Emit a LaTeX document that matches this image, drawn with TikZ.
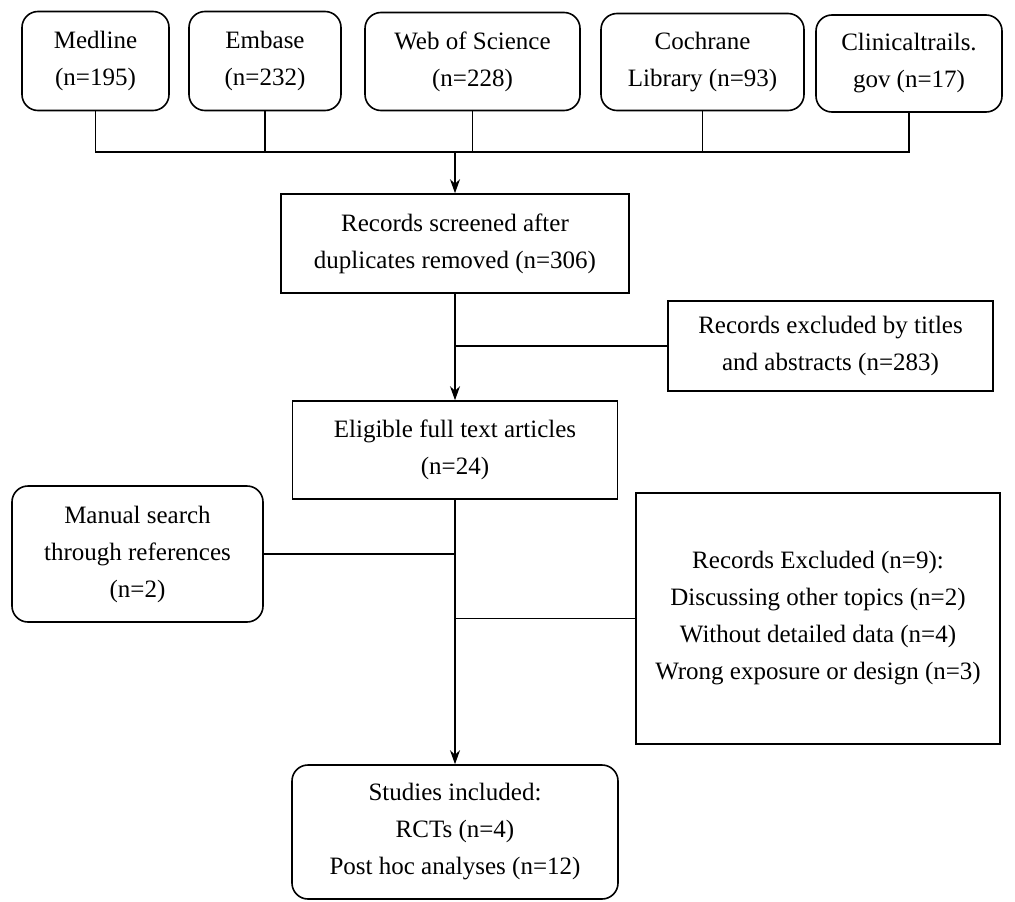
\documentclass[tikz,border=0pt]{standalone}
\usepackage{fontspec}
\setmainfont{Liberation Serif}
\usetikzlibrary{arrows.meta}
\tikzset{
  roundbox/.style={draw,line width=1.6pt,rounded corners=16pt,align=center,inner sep=0pt},
  squarebox/.style={draw,line width=1.6pt,align=center,inner sep=0pt},
  link/.style={line width=1.5pt},
  arrowlink/.style={line width=1.6pt,-{Stealth[length=14pt,width=10pt]}}
}
\begin{document}
\begin{tikzpicture}[x=1pt,y=-1pt,font=\fontsize{25}{37}\selectfont]
		\useasboundingbox (0,0) rectangle (1015,902);
		% databases
		\node[roundbox,minimum width=147pt,minimum height=99pt] (med) at (95.5,61) {Medline\\(n=195)};
		\node[roundbox,minimum width=152pt,minimum height=99pt] (emb) at (265,61) {Embase\\(n=232)};
		\node[roundbox,minimum width=215pt,minimum height=98pt] (wos) at (472.5,61.5) {Web of Science\\(n=228)};
		\node[roundbox,minimum width=203pt,minimum height=97pt] (coch) at (702.5,62) {Cochrane\\Library (n=93)};
		\node[roundbox,minimum width=186pt,minimum height=97pt] (clin) at (909,63.5) {Clinicaltrails.\\gov (n=17)};
		\coordinate (bar) at (455,152);
		% screening
		\node[squarebox,minimum width=348pt,minimum height=99pt] (scr) at (455,243.5) {Records screened after\\duplicates removed (n=306)};
		\node[squarebox,minimum width=325pt,minimum height=90pt] (exc1) at (830.5,346) {Records excluded by titles\\and abstracts (n=283)};
		\node[squarebox,minimum width=325pt,minimum height=98pt] (elig) at (455,450) {Eligible full text articles\\(n=24)};
		\node[roundbox,minimum width=251pt,minimum height=136pt] (man) at (137.5,554) {Manual search\\through references\\(n=2)};
		\node[squarebox,minimum width=364pt,minimum height=251pt] (exc2) at (818,618.5) {Records Excluded (n=9):\\Discussing other topics (n=2)\\Without detailed data (n=4)\\Wrong exposure or design (n=3)};
		\node[roundbox,minimum width=326pt,minimum height=134pt] (stud) at (455,832) {Studies included:\\RCTs (n=4)\\Post hoc analyses (n=12)};
		% connectors
		\draw[link] (med.south) |- (bar) -| (clin.south);
		\draw[link] (emb.south) -- (emb.south |- bar);
		\draw[link] (wos.south) -- (wos.south |- bar);
		\draw[link] (coch.south) -- (coch.south |- bar);
		\draw[arrowlink] (bar) -- (scr.north);
		\draw[arrowlink] (scr.south) -- (elig.north);
		\draw[link] (scr.south |- exc1.west) -- (exc1.west);
		\draw[arrowlink] (elig.south) -- (stud.north);
		\draw[link] (man.east) -- (man.east -| elig.south);
		\draw[link] (exc2.west) -- (exc2.west -| elig.south);
	\end{tikzpicture}
\end{document}
